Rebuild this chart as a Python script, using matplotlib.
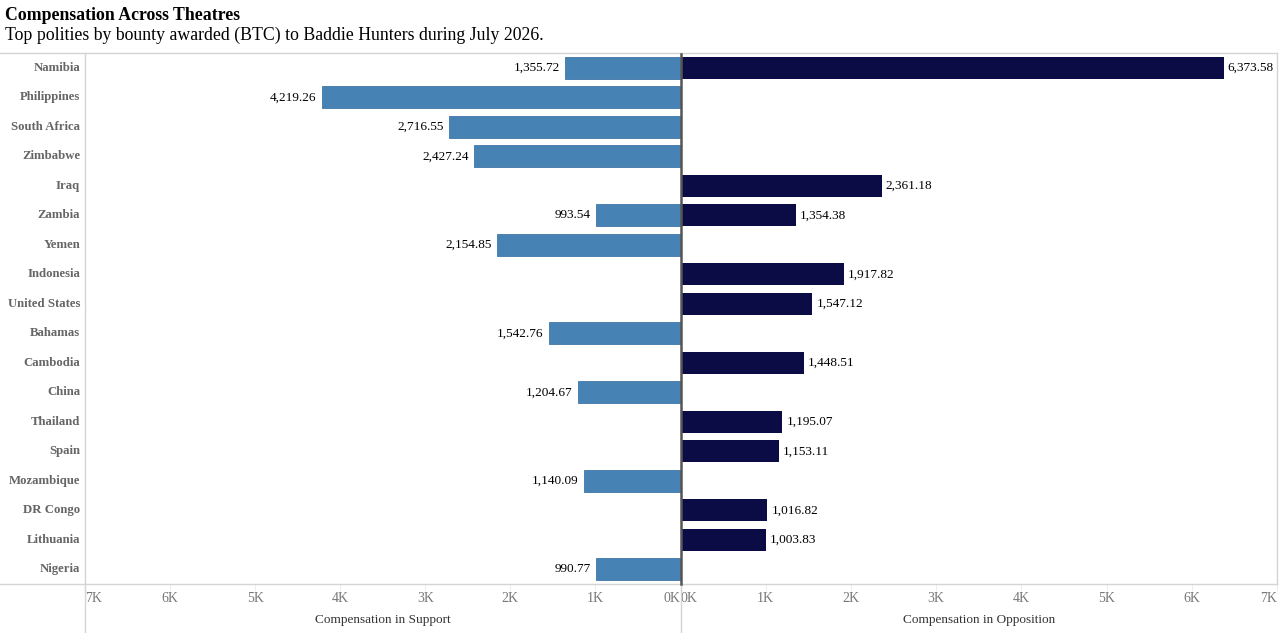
import matplotlib.pyplot as plt
from matplotlib.lines import Line2D
import numpy as np

plt.rcParams['font.family'] = ['Liberation Serif', 'DejaVu Serif']

countries = ["Namibia", "Philippines", "South Africa", "Zimbabwe", "Iraq", "Zambia",
             "Yemen", "Indonesia", "United States", "Bahamas", "Cambodia", "China",
             "Thailand", "Spain", "Mozambique", "DR Congo", "Lithuania", "Nigeria"]
support = [1355.72, 4219.26, 2716.55, 2427.24, None, 993.54,
           2154.85, None, None, 1542.76, None, 1204.67,
           None, None, 1140.09, None, None, 990.77]
opposition = [6373.58, None, None, None, 2361.18, 1354.38,
              None, 1917.82, 1547.12, None, 1448.51, None,
              1195.07, 1153.11, None, 1016.82, 1003.83, None]
ticks = [0, 1000, 2000, 3000, 4000, 5000, 6000, 7000]
tick_labels = ["0K", "1K", "2K", "3K", "4K", "5K", "6K", "7K"]

W, H = 1279, 633
fig = plt.figure(figsize=(W / 100, H / 100), dpi=100)

top, bot = 53, 584
x_l0, x_mid, x_r1 = 85, 680.5, 1277
axL = fig.add_axes([x_l0 / W, (H - bot) / H, (x_mid - x_l0) / W, (bot - top) / H])
axR = fig.add_axes([x_mid / W, (H - bot) / H, (x_r1 - x_mid) / W, (bot - top) / H])

blue = "#4682b4"
navy = "#0b0b45"
grid_c = "#d4d4d4"

for i, v in enumerate(support):
    if v is not None:
        axL.barh(i, v, height=0.74, color=blue, edgecolor="#3f76a6", linewidth=0.6)
        axL.annotate(f"{v:,.2f}", (v, i), xytext=(-4, 0), textcoords="offset points",
                     ha="right", va="center", fontsize=9.5, color="black")
for i, v in enumerate(opposition):
    if v is not None:
        axR.barh(i, v, height=0.74, color=navy)
        axR.annotate(f"{v:,.2f}", (v, i), xytext=(3, 0), textcoords="offset points",
                     ha="left", va="center", fontsize=9.5, color="black")

axL.set_xlim(7000, 0)
axR.set_xlim(0, 7000)
for ax in (axL, axR):
    ax.set_ylim(len(countries) - 0.5, -0.5)
    for s in ax.spines.values():
        s.set_visible(False)
    ax.set_xticks(ticks)
    ax.set_xticklabels(tick_labels)
    ax.tick_params(axis="x", length=5, color="#eeeeee", labelcolor="#777777",
                   labelsize=10, pad=1)
    ax.set_yticks([])

for lbl in axL.get_xticklabels():
    if lbl.get_text() == "7K":
        lbl.set_ha("left")
    if lbl.get_text() == "0K":
        lbl.set_ha("right")
for lbl in axR.get_xticklabels():
    if lbl.get_text() == "0K":
        lbl.set_ha("left")
    if lbl.get_text() == "7K":
        lbl.set_ha("right")

axL.set_xlabel("Compensation in Support", fontsize=9.5, color="#333333", labelpad=6)
axR.set_xlabel("Compensation in Opposition", fontsize=9.5, color="#333333", labelpad=6)

for i, c in enumerate(countries):
    axL.annotate(c, (0, i), xycoords=("axes fraction", "data"), xytext=(-3.5, 0),
                 textcoords="offset points", ha="right", va="center",
                 fontsize=9.2, fontweight="bold", color="#666666")

# frame lines in pixel coordinates
def hline(yp, x0, x1, c=grid_c, lw=1.0):
    fig.add_artist(Line2D([x0 / W, x1 / W], [1 - yp / H, 1 - yp / H], color=c, lw=lw))

def vline(xp, y0, y1, c=grid_c, lw=1.0):
    fig.add_artist(Line2D([xp / W, xp / W], [1 - y0 / H, 1 - y1 / H], color=c, lw=lw))

hline(top, 0, x_r1)
hline(bot, 0, x_r1)
vline(x_l0, top, H)
vline(x_mid + 0.5, bot, H)
vline(x_r1, top, bot)
vline(x_mid, top + 1, bot, c="#555555", lw=1.8)

fig.text(5 / W, 1 - 16 / H, "Compensation Across Theatres", fontsize=12.8,
         fontweight="bold", va="center", ha="left")
fig.text(5 / W, 1 - 35.5 / H, "Top polities by bounty awarded (BTC) to Baddie Hunters during July 2026.",
         fontsize=12.75, va="center", ha="left")

fig.savefig("out.png", dpi=100)
